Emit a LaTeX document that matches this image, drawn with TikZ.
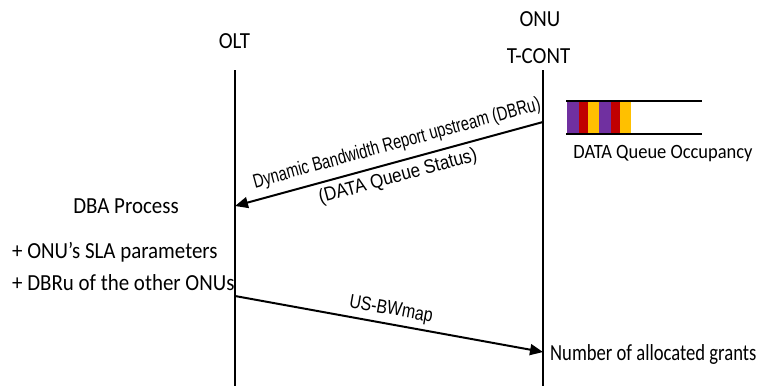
\documentclass[tikz,border=0pt]{standalone}
\usepackage{fontspec}
\setmainfont[FakeStretch=0.91]{Carlito}
\newfontfamily\narrowfont[FakeStretch=0.81]{Carlito}
\newfontfamily\lblfont[FakeStretch=0.82]{Liberation Sans}
\newfontfamily\lblnarrow[FakeStretch=0.755]{Liberation Sans}
\newfontfamily\lblwide[FakeStretch=0.875]{Liberation Sans}
\usetikzlibrary{arrows.meta}
\definecolor{qpurple}{RGB}{112,48,160}
\definecolor{qred}{RGB}{192,0,0}
\definecolor{qyellow}{RGB}{255,192,0}
\tikzset{
  life/.style={line width=1.2pt},
  msg/.style={line width=2pt,-{Triangle[length=13pt,width=11pt]}},
  txt/.style={font=\fontsize{23}{26}\selectfont,inner sep=0pt,anchor=base},
  lbl/.style={font=\fontsize{19.5}{22}\selectfont,inner sep=0pt},
  qline/.style={line width=1.3pt}
}
\begin{document}
\begin{tikzpicture}[x=1pt,y=-1pt]
\useasboundingbox (0,0) rectangle (757,388);
% lifelines
\coordinate (oltT) at (235,70);
\coordinate (oltB) at (235,386);
\coordinate (onuT) at (543,70);
\coordinate (onuB) at (543,386);
\draw[life] (oltT) -- (oltB);
\draw[life] (onuT) -- (onuB);
% headers
\node[txt] (olt) at (234.5,48) {OLT};
\node[txt] (onu) at (540,27) {ONU};
\node[txt] (tcont) at (538.5,63) {T-CONT};
% queue
\fill[qpurple] (567,102) rectangle (579,134);
\fill[qred] (579,102) rectangle (588,134);
\fill[qyellow] (588,102) rectangle (599,134);
\fill[qpurple] (599,102) rectangle (611,134);
\fill[qred] (611,102) rectangle (620,134);
\fill[qyellow] (620,102) rectangle (631,134);
\coordinate (qtl) at (566,101);
\coordinate (qtr) at (702,101);
\coordinate (qbl) at (566,134);
\coordinate (qbr) at (702,134);
\draw[qline] (qtl) -- (qtr);
\draw[qline] (qbl) -- (qbr);
\node[txt,font=\fontsize{20.3}{24}\selectfont] (occ) at (663,158) {DATA Queue Occupancy};
% messages
\coordinate (m1s) at (543,122);
\coordinate (m1e) at (235,206);
\draw[msg] (m1s) -- (m1e);
\node[lbl,font=\lblnarrow\fontsize{19.5}{22}\selectfont,rotate=15.3] (m1a) at (397,144) {Dynamic Bandwidth Report upstream (DBRu)};
\node[lbl,font=\lblwide\fontsize{19.5}{22}\selectfont,rotate=15.3] (m1b) at (398,177) {(DATA Queue Status)};
\coordinate (m2s) at (235,296);
\coordinate (m2e) at (543,352);
\draw[msg] (m2s) -- (m2e);
\node[lbl,font=\lblfont\fontsize{19.5}{22}\selectfont,rotate=-10.3] (m2a) at (391,310) {US-BWmap};
% OLT side text
\node[txt] (dba) at (126,213) {DBA Process};
\node[txt,anchor=base west] (sla) at (12,258) {+ ONU’s SLA parameters};
\node[txt,anchor=base west] (oth) at (12,290) {+ DBRu of the other ONUs};
\node[txt,font=\narrowfont\fontsize{23}{26}\selectfont,anchor=base west] (grants) at (550,360) {Number of allocated grants};
\end{tikzpicture}
\end{document}
